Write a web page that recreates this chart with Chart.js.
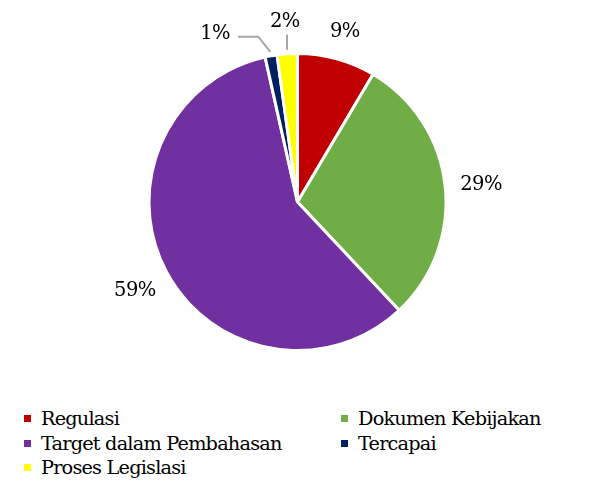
<!DOCTYPE html>
<html>
<head>
<meta charset="utf-8">
<script src="https://cdn.jsdelivr.net/npm/chart.js@4"></script>
<style>
  body { margin: 0; background: #fff; width: 598px; height: 493px; overflow: hidden; position: relative; }
  #box { position: absolute; left: 0; top: 0; width: 598px; height: 390px; }
  #legend {
    position: absolute; left: 24px; top: 407px;
    display: grid; grid-template-columns: 317px auto; row-gap: 0;
    font-family: "DejaVu Serif", serif; font-size: 19.3px; letter-spacing: -0.8px; color: #000;
  }
  #legend div { height: 24.5px; line-height: 24.5px; white-space: nowrap; }
  #legend span { display: inline-block; width: 7px; height: 7px; margin-right: 10px; vertical-align: 3px; }
</style>
</head>
<body>
<div id="box"><canvas id="pie"></canvas></div>
<div id="legend"></div>
<script>
const categories = ["Regulasi", "Dokumen Kebijakan", "Target dalam Pembahasan", "Tercapai", "Proses Legislasi"];
const values = [8.5, 29.5, 58.5, 1.3, 2.2];
const pctLabels = ["9%", "29%", "59%", "1%", "2%"];
const colors = ["#C00000", "#70AD47", "#7030A0", "#002060", "#FFFF00"];

// legend (two columns like the original)
const legend = document.getElementById("legend");
categories.forEach((c, i) => {
  let d = document.createElement("div");
  d.innerHTML = '<span style="background:' + colors[i] + '"></span>' + c;
  legend.appendChild(d);
});

// percent labels outside the pie, leader lines for the tiny slices
const outLabels = {
  id: "outLabels",
  afterDatasetsDraw(chart) {
    const ctx = chart.ctx;
    const arcs = chart.getDatasetMeta(0).data;
    ctx.save();
    ctx.font = '19.5px "DejaVu Serif"';
    ctx.letterSpacing = "-0.6px";
    ctx.textAlign = "center";
    ctx.textBaseline = "middle";
    ctx.fillStyle = "#000";
    const placed = [];
    for (let i = arcs.length - 1; i >= 0; i--) {
      const a = arcs[i];
      const mid = (a.startAngle + a.endAngle) / 2;
      const small = values[i] < 3;
      const w = ctx.measureText(pctLabels[i]).width;
      // push wide labels a bit more on the left/right sides
      const R = a.outerRadius + (small ? 35 : 30) + Math.abs(Math.cos(mid)) * w * 0.15;
      let x = a.x + Math.cos(mid) * R;
      let y = a.y + Math.sin(mid) * R + 3;
      const h = 16;
      let shifted = false;
      placed.forEach(p => {
        if (Math.abs(p.x - x) < (p.w + w) / 2 + 4 && Math.abs(p.y - y) < h + 4) {
          x = p.x - p.w / 2 - 40 - w / 2;
          y = y + 10;
          shifted = true;
        }
      });
      placed.push({ x: x, y: y, w: w });
      ctx.fillText(pctLabels[i], x, y);
      if (small) {
        const ex = a.x + Math.cos(mid) * (a.outerRadius + 4);
        const ey = a.y + Math.sin(mid) * (a.outerRadius + 4);
        ctx.strokeStyle = "#A6A6A6";
        ctx.lineWidth = 2;
        ctx.beginPath();
        if (shifted) {
          ctx.moveTo(x + w / 2 + 8, y + 3);
          ctx.lineTo(ex - 12, y + 3);
          ctx.lineTo(ex, ey);
        } else {
          ctx.moveTo(ex, y + 13);
          ctx.lineTo(ex, ey);
        }
        ctx.stroke();
      }
    }
    ctx.restore();
  }
};

new Chart("pie", {
  type: "pie",
  data: {
    labels: categories,
    datasets: [{
      data: values,
      backgroundColor: colors,
      borderColor: "#fff",
      borderWidth: 3
    }]
  },
  options: {
    responsive: true,
    maintainAspectRatio: false,
    animation: false,
    layout: { padding: { left: 147, right: 150, top: 52, bottom: 38 } },
    plugins: {
      legend: { display: false },
      tooltip: { enabled: false }
    }
  },
  plugins: [outLabels]
});
</script>
</body>
</html>
